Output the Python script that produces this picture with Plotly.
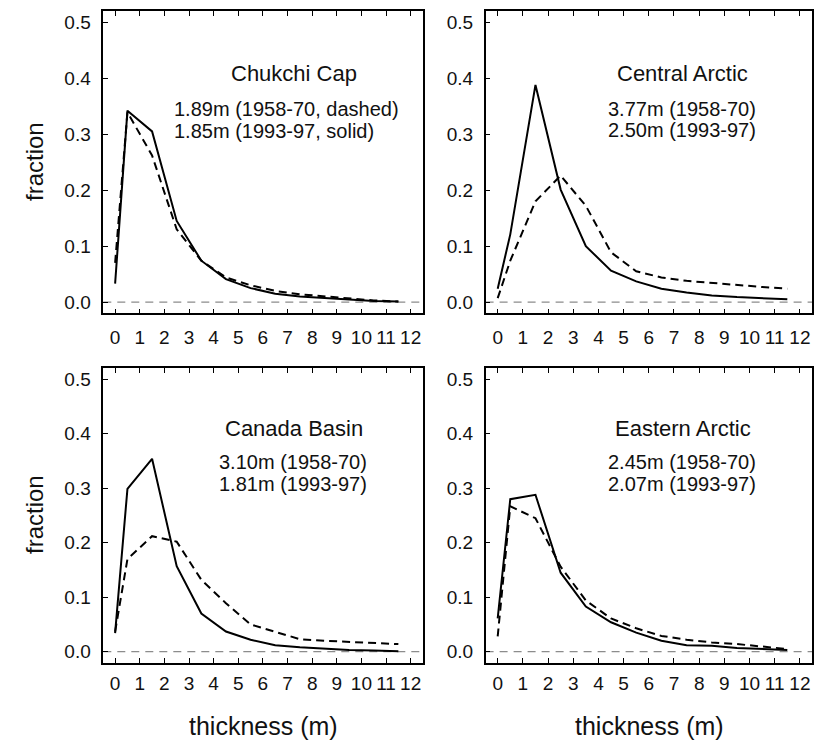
import plotly.graph_objects as go

# ---------------- data ----------------
thickness = [0, 0.5, 1.5, 2.5, 3.5, 4.5, 5.5, 6.5, 7.5, 8.5, 9.5, 10.5, 11.5]

chukchi_1958 = [0.070, 0.339, 0.262, 0.130, 0.074, 0.044, 0.030, 0.020, 0.014, 0.010, 0.007, 0.003, 0.001]
chukchi_1993 = [0.033, 0.342, 0.305, 0.145, 0.074, 0.041, 0.025, 0.015, 0.010, 0.007, 0.005, 0.002, 0.001]
central_1958 = [0.007, 0.074, 0.180, 0.226, 0.172, 0.089, 0.055, 0.044, 0.038, 0.034, 0.030, 0.027, 0.024]
central_1993 = [0.024, 0.121, 0.388, 0.201, 0.100, 0.056, 0.037, 0.024, 0.017, 0.012, 0.009, 0.007, 0.005]
canada_1958 = [0.037, 0.170, 0.212, 0.202, 0.132, 0.089, 0.050, 0.037, 0.023, 0.020, 0.018, 0.016, 0.014]
canada_1993 = [0.034, 0.299, 0.354, 0.157, 0.070, 0.037, 0.022, 0.012, 0.008, 0.005, 0.003, 0.002, 0.001]
eastern_1958 = [0.028, 0.267, 0.245, 0.156, 0.094, 0.061, 0.043, 0.029, 0.022, 0.017, 0.014, 0.010, 0.005]
eastern_1993 = [0.061, 0.280, 0.288, 0.145, 0.083, 0.054, 0.035, 0.020, 0.012, 0.011, 0.007, 0.005, 0.003]

region_names = ["Chukchi Cap", "Central Arctic", "Canada Basin", "Eastern Arctic"]
mean_lines = [
    ["1.89m (1958-70, dashed)", "1.85m (1993-97, solid)"],
    ["3.77m (1958-70)", "2.50m (1993-97)"],
    ["3.10m (1958-70)", "1.81m (1993-97)"],
    ["2.45m (1958-70)", "2.07m (1993-97)"],
]
series_1958 = [chukchi_1958, central_1958, canada_1958, eastern_1958]
series_1993 = [chukchi_1993, central_1993, canada_1993, eastern_1993]

x_ticks = list(range(0, 13))
y_ticks = [0.0, 0.1, 0.2, 0.3, 0.4, 0.5]
y_ticklabels = ["0.0", "0.1", "0.2", "0.3", "0.4", "0.5"]

# ---------------- layout geometry (page pixels) ----------------
W, H = 814, 740
FONT = "Liberation Sans, Arial, Helvetica, sans-serif"

# panel frames in page pixels: (left, right, top, bottom)
frames = [
    (103.3, 422.5, 11.0, 313.3),
    (485.6, 812.0, 11.0, 313.3),
    (103.3, 422.5, 368.4, 662.6),
    (485.6, 812.0, 368.4, 662.6),
]

def px(x):
    return x / W

def py(y):
    return 1 - y / H

fig = go.Figure()

for i in range(4):
    ax = "" if i == 0 else str(i + 1)
    fig.add_trace(go.Scatter(
        x=thickness, y=series_1958[i], mode="lines",
        line=dict(color="black", width=2, dash="8px,5px"),
        xaxis="x" + ax, yaxis="y" + ax, showlegend=False, hoverinfo="skip"))
    fig.add_trace(go.Scatter(
        x=thickness, y=series_1993[i], mode="lines",
        line=dict(color="black", width=2),
        xaxis="x" + ax, yaxis="y" + ax, showlegend=False, hoverinfo="skip"))

layout = dict(
    width=W, height=H,
    margin=dict(l=0, r=0, t=0, b=0),
    paper_bgcolor="white", plot_bgcolor="white",
    font=dict(family=FONT, color="black", size=19),
    showlegend=False,
)

shapes = []
for i, (l, r, t, b) in enumerate(frames):
    ax = "" if i == 0 else str(i + 1)
    key = "" if i == 0 else str(i + 1)
    standoff = 6 if i < 2 else 3
    layout["xaxis" + key] = dict(
        domain=[px(l), px(r)], anchor="y" + ax, range=[-0.48, 12.48],
        tickvals=x_ticks, ticktext=[str(v) for v in x_ticks],
        ticks="inside", ticklen=5, tickwidth=1.2, tickcolor="black",
        showline=True, linecolor="black", linewidth=1.5, mirror="ticks",
        showgrid=False, zeroline=False, ticklabelstandoff=standoff,
        ticklabeloverflow="allow",
        tickfont=dict(size=19, family=FONT, color="#111"),
    )
    layout["yaxis" + key] = dict(
        domain=[py(b), py(t)], anchor="x" + ax, range=[-0.02, 0.52],
        tickvals=y_ticks, ticktext=y_ticklabels,
        ticks="inside", ticklen=5, tickwidth=1.2, tickcolor="black",
        showline=True, linecolor="black", linewidth=1.5, mirror=True,
        showgrid=False, zeroline=False, ticklabelstandoff=7,
        ticklabeloverflow="allow",
        tickfont=dict(size=19, family=FONT, color="#111"),
    )
    shapes.append(dict(type="line", xref="x" + ax + " domain", yref="y" + ax,
                       x0=0, x1=1, y0=0, y1=0,
                       line=dict(color="#8c8c8c", width=1.2, dash="8px,6px"),
                       layer="below"))
layout["shapes"] = shapes

annotations = []
title_pos = [(294, 74), (682, 74), (294, 428), (683, 428)]
line_pos = [
    [(171.7, 108.5, "left"), (171.7, 130.5, "left")],
    [(681.7, 108.5, "center"), (681.7, 130.0, "center")],
    [(292.5, 462, "center"), (292.5, 483.5, "center")],
    [(682, 462, "center"), (682, 483.5, "center")],
]
for i in range(4):
    tx, ty = title_pos[i]
    annotations.append(dict(x=px(tx), y=py(ty), xref="paper", yref="paper",
                            text=region_names[i], showarrow=False,
                            xanchor="center", yanchor="middle",
                            font=dict(size=22, family=FONT, color="#111")))
    for j in range(2):
        lx, ly, anc = line_pos[i][j]
        annotations.append(dict(x=px(lx), y=py(ly), xref="paper", yref="paper",
                                text=mean_lines[i][j], showarrow=False,
                                xanchor=anc, yanchor="middle",
                                font=dict(size=20, family=FONT, color="#111")))

for cy in [162, 515]:
    annotations.append(dict(x=px(34), y=py(cy), xref="paper", yref="paper",
                            text="fraction", showarrow=False, textangle=-90,
                            xanchor="center", yanchor="middle",
                            font=dict(size=24, family=FONT, color="#111")))
for cx in [263, 649]:
    annotations.append(dict(x=px(cx), y=py(726), xref="paper", yref="paper",
                            text="thickness (m)", showarrow=False,
                            xanchor="center", yanchor="middle",
                            font=dict(size=25, family=FONT, color="#111")))
layout["annotations"] = annotations

fig.update_layout(**layout)
fig.write_html(
    "out.html",
    config={"displayModeBar": False},
    post_script="document.body.style.margin='0';document.body.style.overflow='hidden';",
)
